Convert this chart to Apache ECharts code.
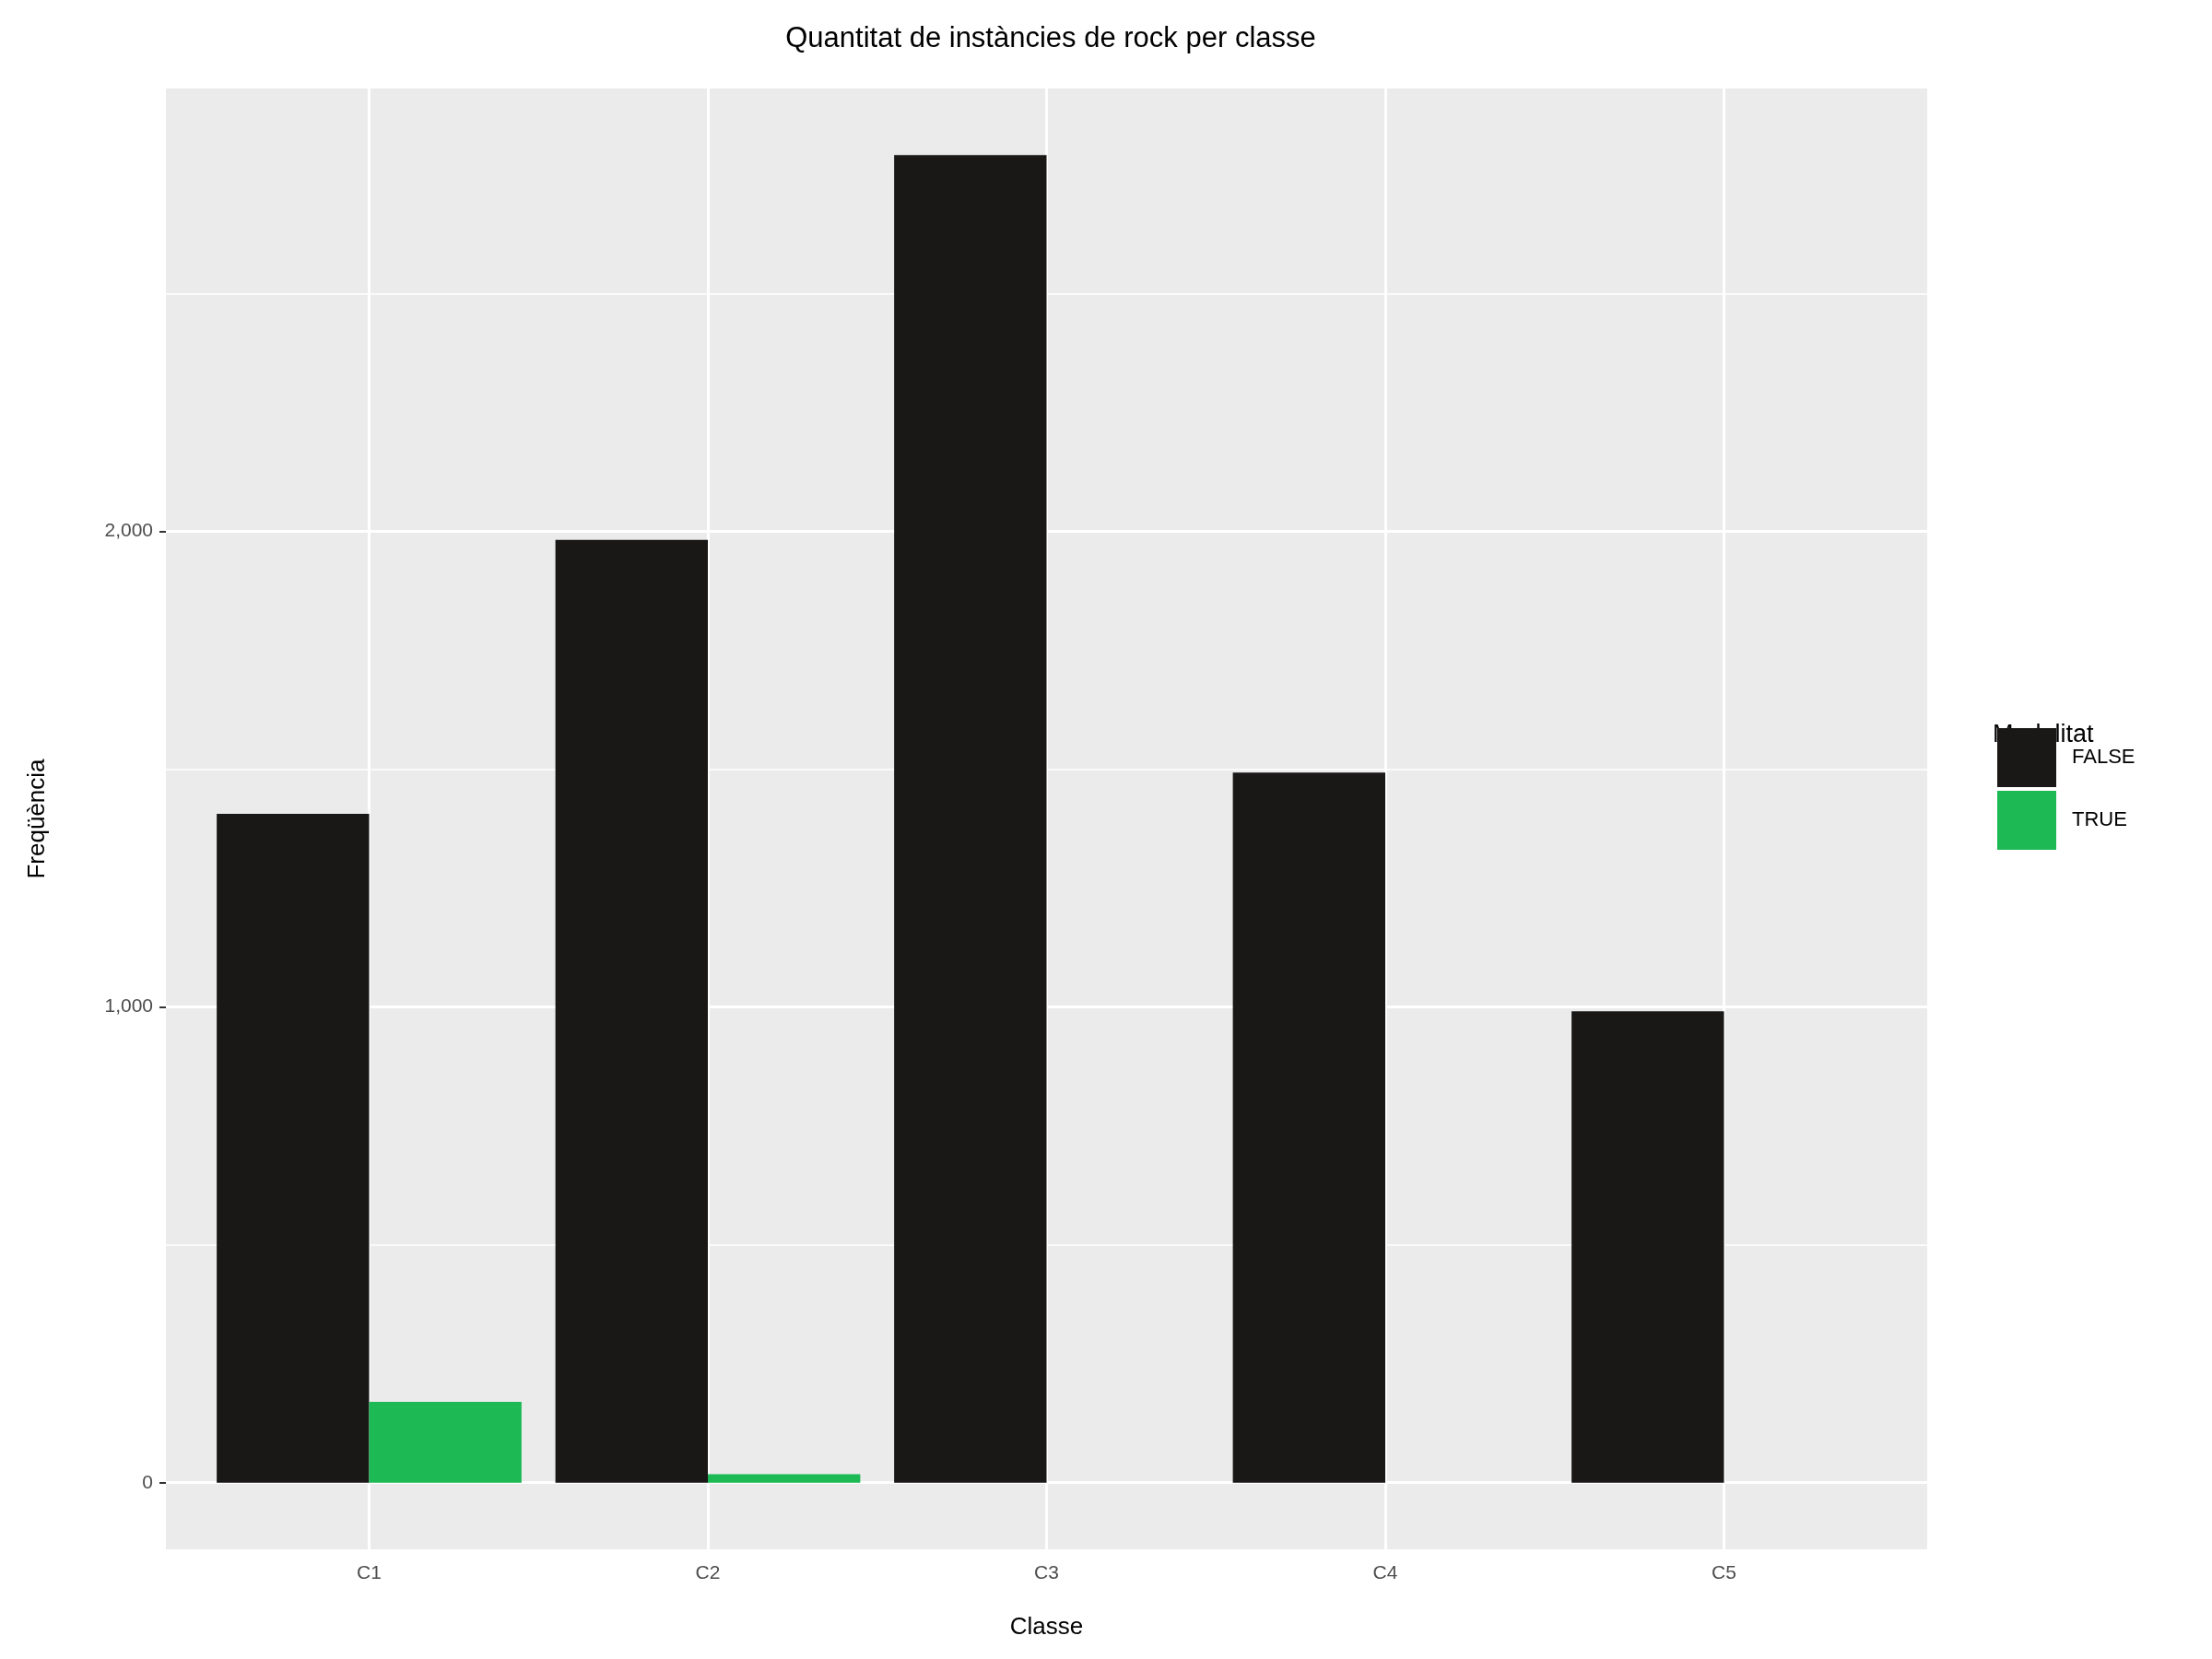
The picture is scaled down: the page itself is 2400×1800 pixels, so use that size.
<!DOCTYPE html>
<html>
<head>
<meta charset="utf-8">
<script src="https://cdn.jsdelivr.net/npm/echarts@6/dist/echarts.min.js"></script>
<style>html,body{margin:0;padding:0;background:#fff}#chart{width:2400px;height:1800px}</style>
</head>
<body>
<div id="chart"></div>
<script>
"use strict";
const classes = ["C1", "C2", "C3", "C4", "C5"];
const falseCounts = [1406, 1982, 2791, 1493, 991];
const trueCounts = [170, 18, 0, 0, 0];
const yTicks = [0, 1000, 2000];
const yMinor = [500, 1500, 2500];
const xTicks = [1, 2, 3, 4, 5];

const FONT = "Liberation Sans, Arial, sans-serif";

// each bar is drawn through the axis scales: left half or right half of the slot
function barRenderer(offset) {
    return function (params, api) {
        const x = api.value(0), v = api.value(1);
        const p0 = api.coord([x + offset, v]);
        const p1 = api.coord([x + offset + 0.45, 0]);
        return {
            type: "rect",
            shape: {x: p0[0], y: p0[1], width: p1[0] - p0[0], height: p1[1] - p0[1]},
            style: {fill: api.visual("color")}
        };
    };
}

const myChart = echarts.init(document.getElementById("chart"));
const option = {
    backgroundColor: "#ffffff",
    title: {
        text: "Quantitat de instàncies de rock per classe",
        left: 1135, top: 22, textAlign: "center",
        textStyle: {fontFamily: FONT, fontSize: 31, fontWeight: "normal", color: "#000"}
    },
    legend: {
        left: 2162, top: 785, orient: "vertical",
        data: ["FALSE", "TRUE"],
        itemWidth: 64, itemHeight: 64, itemGap: 4, icon: "rect",
        textStyle: {fontFamily: FONT, fontSize: 22, color: "#000", padding: [0, 0, 0, 12]}
    },
    graphic: [{
        type: "text", left: 2162, top: 784,
        style: {text: "Modalitat", fontFamily: FONT, fontSize: 27, fill: "#000"}
    }],
    grid: {
        left: 180, right: 309, top: 96, bottom: 119,
        show: true, backgroundColor: "#EBEBEB", borderWidth: 0
    },
    xAxis: {
        type: "value", min: 0.4, max: 5.6,
        name: "Classe", nameLocation: "middle", nameGap: 72,
        nameTextStyle: {fontFamily: FONT, fontSize: 26, color: "#000"},
        axisLine: {show: false},
        splitLine: {show: false},
        axisTick: {show: true, customValues: xTicks, length: 7, lineStyle: {color: "#333", width: 2}},
        axisLabel: {
            customValues: xTicks, margin: 16,
            fontFamily: FONT, fontSize: 21, color: "#4D4D4D",
            formatter: v => classes[Math.round(v) - 1]
        }
    },
    yAxis: {
        type: "value", min: -140, max: 2931,
        name: "Freqüència", nameLocation: "middle", nameGap: 126, nameRotate: 90,
        nameTextStyle: {fontFamily: FONT, fontSize: 26, color: "#000"},
        axisLine: {show: false},
        splitLine: {show: false},
        axisTick: {show: true, customValues: yTicks, length: 7, lineStyle: {color: "#333", width: 2}},
        axisLabel: {customValues: yTicks, margin: 14, fontFamily: FONT, fontSize: 21, color: "#4D4D4D"}
    },
    series: [
        {
            type: "line", data: [], silent: true, z: 1,
            markLine: {
                silent: true, symbol: "none", label: {show: false}, animation: false,
                data: yMinor.map(v => ({yAxis: v, lineStyle: {color: "#fff", width: 1.5, type: "solid"}}))
                    .concat(yTicks.map(v => ({yAxis: v, lineStyle: {color: "#fff", width: 3, type: "solid"}})))
                    .concat(xTicks.map(v => ({xAxis: v, lineStyle: {color: "#fff", width: 3, type: "solid"}})))
            }
        },
        {
            name: "FALSE", type: "custom", z: 5,
            itemStyle: {color: "#1A1717"},
            renderItem: barRenderer(-0.45),
            data: falseCounts.map((v, i) => [i + 1, v])
        },
        {
            name: "TRUE", type: "custom", z: 5,
            itemStyle: {color: "#1DB954"},
            renderItem: barRenderer(0),
            data: trueCounts.map((v, i) => [i + 1, v])
        }
    ]
};
myChart.setOption(option);
</script>
</body>
</html>
